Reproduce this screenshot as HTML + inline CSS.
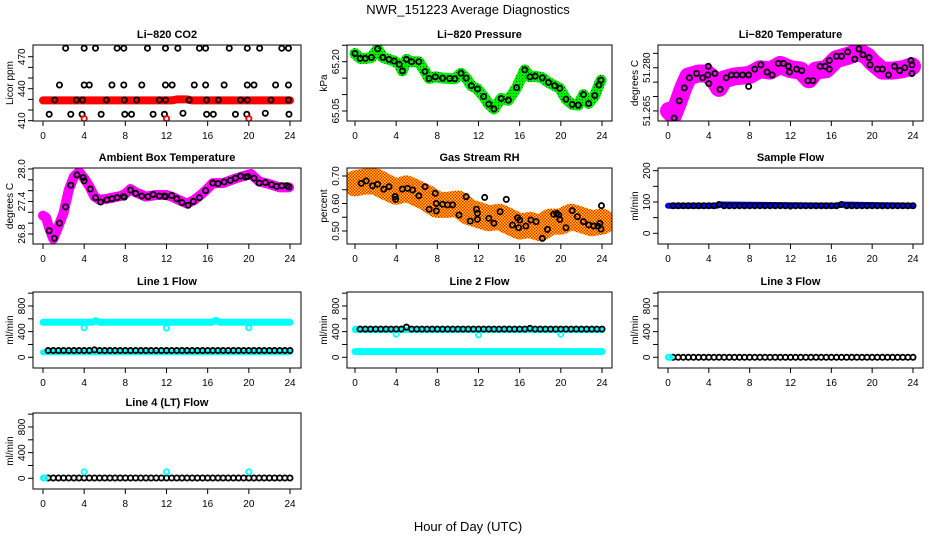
<!DOCTYPE html>
<html><head><meta charset="utf-8"><style>
body{margin:0;background:#fff}
svg{display:block}
text{font-family:"Liberation Sans",sans-serif;fill:#000}
</style></head><body>
<svg id="chart" width="936" height="540" viewBox="0 0 936 540" xmlns="http://www.w3.org/2000/svg">
<defs>
<pattern id="rhpat" width="3" height="3" patternUnits="userSpaceOnUse"><rect width="3" height="3" fill="#ffd400"/><rect width="1.5" height="1.5" fill="#ff2000"/><rect x="1.5" y="1.5" width="1.5" height="1.5" fill="#ff2000"/></pattern>
<pattern id="grpat" width="3" height="3" patternUnits="userSpaceOnUse"><rect width="3" height="3" fill="#00ee00"/><rect width="1" height="1" fill="#006600"/></pattern>
</defs>
<text x="468" y="14" text-anchor="middle" font-size="13">NWR_151223  Average Diagnostics</text>
<text x="468" y="531" text-anchor="middle" font-size="13">Hour of Day (UTC)</text>
</svg>
<script>
// ---- data ----
const xTicks = [0,4,8,12,16,20,24];
// CO2
const co2BandHours = [0,12.5,13,14,14.5,24];
const co2BandVals = [429,429,430,430,429,429];
const co2TopHours = [2.2,4.0,5.1,7.2,7.85,10.15,11.9,13.1,15.2,15.8,18.1,19.85,21.05,23.2,23.85];
const co2TopVals = [478,478,478,478,478,478,478,478,478,478,478,478,478,478,478];
const co2MidHours = [1.6,4.0,4.5,6.7,7.85,9.6,11.9,12.55,14.7,15.8,17.6,19.85,20.5,22.6,23.85];
const co2MidVals = [443.5,443.5,443.5,443.5,443.5,443.5,443.5,443.5,443.5,443.5,443.5,443.5,443.5,443.5,443.5];
const co2LowHours = [1.15,3.25,3.85,6.15,7.9,9.1,11.3,11.9,14.2,15.9,17.05,19.2,19.85,22.15,23.85];
const co2LowVals = [429.4,429.4,429.4,429.4,429.4,429.4,429.4,429.4,429.4,429.4,429.4,429.4,429.4,429.4,429.4];
const co2BotHours = [0.6,2.7,3.8,5.65,7.95,8.6,10.7,11.8,13.6,15.9,16.55,18.7,19.8,21.6,23.9];
const co2BotVals = [416,416,416,416,416,416,416,416,417,416,416,416,416,417,416];
const co2RedHours = [4,12,20];
const co2RedVals = [411.9,411.9,411.9];
// Pressure
const presHours = [0,0.5,1,1.6,2.2,2.7,3.3,3.8,4.3,4.6,5,5.5,6.2,6.8,7.2,7.8,8.5,9.2,9.7,10.3,10.8,11.3,11.9,12.5,13,13.5,14.2,14.9,15.7,16.5,17,17.5,18.2,18.8,19.4,19.9,20.5,21.1,21.7,22.2,22.7,23.3,23.7,23.9];
const presVals = [65.225,65.21,65.21,65.213,65.239,65.213,65.207,65.202,65.192,65.172,65.207,65.2,65.2,65.17,65.149,65.154,65.15,65.149,65.148,65.165,65.15,65.127,65.117,65.094,65.071,65.056,65.088,65.083,65.121,65.175,65.154,65.156,65.151,65.137,65.127,65.119,65.086,65.07,65.068,65.1,65.073,65.097,65.129,65.144];
// Li-820 Temperature
const tBandHours = [0.1,0.5,1,1.5,2,3,3.8,4.5,5,5.5,6.5,8,9,10,11,12,13,13.8,14.5,15.5,16.5,17.5,18.7,19.5,20,21,22,23,23.9];
const tBandVals = [51.265,51.2635,51.268,51.273,51.277,51.278,51.278,51.276,51.273,51.276,51.277,51.2775,51.2795,51.279,51.281,51.2795,51.279,51.276,51.279,51.2795,51.283,51.284,51.2855,51.284,51.282,51.279,51.279,51.2795,51.2805];
const tPtHours = [0.6,1.1,1.6,2.1,2.8,3.4,3.9,3.95,4.0,4.6,5.1,5.7,6.2,6.7,7.3,7.9,7.9,8.5,9.1,9.7,10.2,10.8,11.3,11.8,11.9,12.6,13.1,13.7,14.2,14.9,15.4,15.8,15.8,16.5,17,17.6,18.3,18.7,19.1,19.7,19.8,20.5,21,21.6,22.2,22.7,23.2,23.8,23.9,23.9];
const tPtVals = [51.2625,51.2685,51.273,51.2765,51.278,51.2765,51.2775,51.2805,51.2745,51.278,51.2725,51.2765,51.2775,51.2775,51.2775,51.2775,51.2735,51.2795,51.281,51.2785,51.2775,51.2815,51.2815,51.2805,51.2785,51.2795,51.279,51.2755,51.2755,51.2805,51.2805,51.2825,51.2795,51.284,51.284,51.2855,51.283,51.2865,51.2845,51.2835,51.281,51.2795,51.2795,51.2775,51.2805,51.279,51.28,51.2825,51.281,51.278];
// Ambient box temperature
const aBandHours = [0,0.3,0.6,1,1.5,2,2.5,3,3.5,4,4.5,5,5.5,6.5,7.5,8,8.5,9,10,11,12,12.5,13.2,14,14.7,15.5,16,16.5,17.5,18.5,19.5,20.2,21,22,23,23.9];
const aBandVals = [27.14,27.1,26.91,26.71,26.94,27.19,27.61,27.86,27.95,27.83,27.68,27.49,27.43,27.46,27.5,27.54,27.63,27.57,27.49,27.52,27.52,27.49,27.43,27.36,27.43,27.55,27.64,27.74,27.74,27.81,27.87,27.91,27.77,27.72,27.66,27.66];
const aPtHours = [0.6,1.1,1.6,2.2,2.7,3.3,3.9,4.0,4.6,5.1,5.6,6.2,6.7,7.2,7.8,7.9,8.5,9,9.6,10.2,10.7,11.3,11.8,11.9,12.5,13,13.5,14.1,14.6,15.2,15.8,16.5,17,17.6,18.2,18.7,19.2,19.7,19.9,20.5,21,21.6,22.2,22.7,23.2,23.7,23.9];
const aPtVals = [26.86,26.72,27.0,27.3,27.7,27.89,27.84,27.78,27.63,27.47,27.39,27.43,27.45,27.47,27.49,27.48,27.61,27.55,27.5,27.49,27.53,27.5,27.5,27.49,27.51,27.45,27.38,27.33,27.4,27.47,27.6,27.74,27.73,27.76,27.79,27.83,27.87,27.85,27.86,27.83,27.74,27.75,27.71,27.68,27.69,27.69,27.67];
// Gas stream RH
const rhBandHours = [0,1,2,3,4,5,6,7,8,9,10,11,12,13,14,15,16,17,18,19,20,21,22,23,24];
const rhBandVals = [0.673,0.68,0.68,0.66,0.643,0.655,0.637,0.62,0.595,0.595,0.6,0.57,0.558,0.546,0.552,0.534,0.516,0.522,0.51,0.534,0.534,0.552,0.54,0.528,0.534];
const rhPtHours = [0.6,1.1,1.7,2.2,2.8,3.3,3.9,3.95,4.6,5.1,5.6,6.2,6.8,7.2,7.8,7.9,7.9,8.5,9,9.5,10.1,10.8,11.2,11.8,11.9,11.9,12.6,13,13.5,14.1,14.7,15.3,15.8,15.9,16,16.6,17.1,17.6,18.2,18.7,19.3,19.6,19.8,19.9,20.5,21.1,21.6,22.2,22.7,23.2,23.6,23.8,23.9,23.95];
const rhPtVals = [0.673,0.682,0.664,0.67,0.652,0.661,0.625,0.615,0.652,0.655,0.649,0.628,0.661,0.579,0.637,0.6,0.573,0.597,0.595,0.595,0.558,0.625,0.536,0.579,0.564,0.542,0.622,0.546,0.528,0.57,0.615,0.522,0.548,0.512,0.54,0.518,0.54,0.534,0.473,0.506,0.561,0.564,0.558,0.542,0.512,0.574,0.552,0.534,0.522,0.518,0.518,0.528,0.507,0.592];
// Flows
const flowHours = [0.5,1,1.5,2,2.5,3,3.5,4,4.5,5,5.5,6,6.5,7,7.5,8,8.5,9,9.5,10,10.5,11,11.5,12,12.5,13,13.5,14,14.5,15,15.5,16,16.5,17,17.5,18,18.5,19,19.5,20,20.5,21,21.5,22,22.5,23,23.5,24];
const sampleVals = [88,88,88,88,88,88,88,88,88,92,88,88,88,88,88,88,88,88,88,88,88,88,88,87,88,88,88,88,88,88,88,88,88,92,88,88,88,88,88,88,88,88,88,88,88,88,88,88];
const sampleBandHours = [0,4.8,5.2,16.5,17,24];
const sampleBandVals = [88,88,92,88,92,88];
const line1Vals = [105,105,105,105,105,105,105,105,105,115,105,105,105,105,105,105,105,105,105,105,105,105,105,105,105,105,105,105,105,105,105,105,105,105,105,105,105,105,105,105,105,105,105,105,105,105,105,105];
const line1UpHours = [0,4.8,5.1,5.5,16.4,16.8,17.2,24];
const line1UpVals = [545,545,570,545,545,575,545,545];
const line1LowHours = [0,24];
const line1LowVals = [80,80];
const line1SpikeHours = [4,12,20];
const line1SpikeVals = [460,455,460];
const line2Vals = [440,440,440,440,440,440,440,440,440,470,440,440,440,440,440,440,440,440,440,440,440,440,440,440,440,440,440,440,440,440,440,440,440,450,440,440,440,440,440,440,440,440,440,440,440,440,440,440];
const line2UpHours = [0,24];
const line2UpVals = [425,425];
const line2LowHours = [0,24];
const line2LowVals = [88,88];
const line2SpikeHours = [0.05,4,12,20];
const line2SpikeVals = [440,360,350,360];
const line3Vals = [0,0,0,0,0,0,0,0,0,0,0,0,0,0,0,0,0,0,0,0,0,0,0,0,0,0,0,0,0,0,0,0,0,0,0,0,0,0,0,0,0,0,0,0,0,0,0,0];
const line3CyanHours = [0.05,0.2];
const line3CyanVals = [0,0];
const line4Vals = [5,5,5,5,5,5,5,5,5,5,5,5,5,5,5,5,5,5,5,5,5,5,5,5,5,5,5,5,5,5,5,5,5,5,5,5,5,5,5,5,5,5,5,5,5,5,5,5];
const line4SpikeHours = [0.05,0.2,4,12,20];
const line4SpikeVals = [5,5,100,100,100];

// ---- layout ----
const NS = 'http://www.w3.org/2000/svg';
const svg = document.getElementById('chart');
const colBox = [[33,301],[347,612],[658,923]];
const colX = [[43,290],[355,602],[668,913]];
const rowTop = [45,168,292,413];
const H = 76;
function mk(tag, attrs, parent){const e=document.createElementNS(NS,tag);for(const k in attrs)e.setAttribute(k,attrs[k]);(parent||svg).appendChild(e);return e;}

function panel(p){
  const g = mk('g',{});
  
  
  const [bl,br] = colBox[p.col], top = rowTop[p.row], bot = top+H;
  const [x0,x24] = colX[p.col];
  const sx = h => x0 + (x24-x0)*h/24;
  const sy = v => bot - (v-p.d0)/(p.d1-p.d0)*H;
  const t = mk('text',{x:(bl+br)/2,y:top-7,'text-anchor':'middle','font-size':'11','font-weight':'bold'},g);
  t.textContent = p.title;
  
  
  const yl = mk('text',{transform:`translate(${bl-20},${(top+bot)/2}) rotate(-90)`,'text-anchor':'middle','font-size':'10'},g);
  yl.textContent = p.ylab;
  
  
  const xa = mk('g',{},g);
  
  
  mk('line',{x1:sx(0),x2:sx(24),y1:bot,y2:bot,stroke:'#000'},xa);
  xTicks.forEach(v=>{
    mk('line',{x1:sx(v),x2:sx(v),y1:bot,y2:bot+5,stroke:'#000'},xa);
    const tx = mk('text',{x:sx(v),y:bot+18,'text-anchor':'middle','font-size':'10'},xa);
    tx.textContent = v;
  });
  const ya = mk('g',{},g);
  
  
  mk('line',{x1:bl,x2:bl,y1:sy(p.ticks[0]),y2:sy(p.ticks[p.ticks.length-1]),stroke:'#000'},ya);
  p.ticks.forEach(v=>{mk('line',{x1:bl-5,x2:bl,y1:sy(v),y2:sy(v),stroke:'#000'},ya);});
  p.labels.forEach((v,i)=>{
    const ty = mk('text',{transform:`translate(${bl-8},${sy(v)}) rotate(-90)`,'text-anchor':'middle','font-size':'10'},ya);
    ty.textContent = p.labelText[i];
  });
  const cid = 'c'+p.name;
  const cp = mk('clipPath',{id:cid},g); mk('rect',{x:bl,y:top,width:br-bl,height:H},cp);
  const data = mk('g',{'clip-path':`url(#${cid})`},g);
  p.series.forEach(s=>{
    if(s.type==='band'){
      const d = s.h.map((h,i)=>(i?'L':'M')+sx(h).toFixed(1)+','+sy(s.v[i]).toFixed(1)).join('');
      const path = mk('path',{d:d,fill:'none',stroke:s.color,'stroke-width':s.w,'stroke-linecap':'round','stroke-linejoin':'round'},data);
      
      
    } else {
      const sg = mk('g',{},data);
      
      
      s.h.forEach((h,i)=>{
        const c = mk('circle',{cx:sx(h),cy:sy(s.v[i]),r:s.r||2.6,fill:'none',stroke:s.color,'stroke-width':s.sw||1.8},sg);
        
        
      });
    }
  });
  mk('rect',{x:bl,y:top,width:br-bl,height:H,fill:'none',stroke:'#000'},g);
}
const flowTicks=[0,200,400,600,800,1000];
const panels = [
 {name:'co2-panel',col:0,row:0,title:'Li\u2212820 CO2',ylab:'Licor ppm',d0:409.7,d1:481,ticks:[410,420,430,440,450,460,470],labels:[410,440,470],labelText:['410','440','470'],
  series:[{type:'band',name:'co2-band',h:co2BandHours,v:co2BandVals,color:'#ff0000',w:8},
   {type:'pts',name:'co2-top',h:co2TopHours,v:co2TopVals,color:'#000'},
   {type:'pts',name:'co2-mid',h:co2MidHours,v:co2MidVals,color:'#000'},
   {type:'pts',name:'co2-low',h:co2LowHours,v:co2LowVals,color:'#000'},
   {type:'pts',name:'co2-bot',h:co2BotHours,v:co2BotVals,color:'#000'},
   {type:'pts',name:'co2-red',h:co2RedHours,v:co2RedVals,color:'#ff0000'}]},
 {name:'pressure-panel',col:1,row:0,title:'Li\u2212820 Pressure',ylab:'kPa',d0:65.0196,d1:65.2508,ticks:[65.05,65.10,65.15,65.20,65.25],labels:[65.05,65.20],labelText:['65.05','65.20'],
  series:[{type:'band',name:'pressure-band',h:presHours,v:presVals,color:'url(#grpat)',w:11},
   {type:'pts',name:'pressure-points',h:presHours,v:presVals,color:'#000'}]},
 {name:'temperature-panel',col:2,row:0,title:'Li\u2212820 Temperature',ylab:'degrees C',d0:51.2615,d1:51.2879,ticks:[51.265,51.27,51.275,51.28,51.285],labels:[51.265,51.28],labelText:['51.265','51.280'],
  series:[{type:'band',name:'temperature-band',h:tBandHours,v:tBandVals,color:'#ff00ff',w:18},
   {type:'pts',name:'temperature-points',h:tPtHours,v:tPtVals,color:'#000'}]},
 {name:'ambient-panel',col:0,row:1,title:'Ambient Box Temperature',ylab:'degrees C',d0:26.615,d1:28.018,ticks:[26.8,27.0,27.2,27.4,27.6,27.8,28.0],labels:[26.8,27.4,28.0],labelText:['26.8','27.4','28.0'],
  series:[{type:'band',name:'ambient-band',h:aBandHours,v:aBandVals,color:'#ff00ff',w:10},
   {type:'pts',name:'ambient-points',h:aPtHours,v:aPtVals,color:'#000'}]},
 {name:'rh-panel',col:1,row:1,title:'Gas Stream RH',ylab:'percent',d0:0.4527,d1:0.729,ticks:[0.5,0.55,0.6,0.65,0.7],labels:[0.5,0.6,0.7],labelText:['0.50','0.60','0.70'],
  series:[{type:'band',name:'rh-band',h:rhBandHours,v:rhBandVals,color:'url(#rhpat)',w:26},
   {type:'pts',name:'rh-points',h:rhPtHours,v:rhPtVals,color:'#000'}]},
 {name:'sample-flow-panel',col:2,row:1,title:'Sample Flow',ylab:'ml/min',d0:-34.2,d1:208.6,ticks:[0,50,100,150,200],labels:[0,100,200],labelText:['0','100','200'],
  series:[{type:'band',name:'sample-band',h:sampleBandHours,v:sampleBandVals,color:'#0000ff',w:6},
   {type:'pts',name:'sample-points',h:flowHours,v:sampleVals,color:'#000'}]},
 {name:'line1-panel',col:0,row:2,title:'Line 1 Flow',ylab:'ml/min',d0:-167,d1:1018,ticks:flowTicks,labels:[0,400,800],labelText:['0','400','800'],
  series:[{type:'band',name:'line1-upper',h:line1UpHours,v:line1UpVals,color:'#00ffff',w:7},
   {type:'band',name:'line1-lower',h:line1LowHours,v:line1LowVals,color:'#00ffff',w:6},
   {type:'pts',name:'line1-spikes',h:line1SpikeHours,v:line1SpikeVals,color:'#00ffff'},
   {type:'pts',name:'line1-points',h:flowHours,v:line1Vals,color:'#000'}]},
 {name:'line2-panel',col:1,row:2,title:'Line 2 Flow',ylab:'ml/min',d0:-167,d1:1018,ticks:flowTicks,labels:[0,400,800],labelText:['0','400','800'],
  series:[{type:'band',name:'line2-upper',h:line2UpHours,v:line2UpVals,color:'#00ffff',w:6},
   {type:'band',name:'line2-lower',h:line2LowHours,v:line2LowVals,color:'#00ffff',w:7},
   {type:'pts',name:'line2-spikes',h:line2SpikeHours,v:line2SpikeVals,color:'#00ffff'},
   {type:'pts',name:'line2-points',h:flowHours,v:line2Vals,color:'#000'}]},
 {name:'line3-panel',col:2,row:2,title:'Line 3 Flow',ylab:'ml/min',d0:-167,d1:1018,ticks:flowTicks,labels:[0,400,800],labelText:['0','400','800'],
  series:[{type:'pts',name:'line3-points',h:flowHours,v:line3Vals,color:'#000'},
   {type:'pts',name:'line3-cyan',h:line3CyanHours,v:line3CyanVals,color:'#00ffff'}]},
 {name:'line4-panel',col:0,row:3,title:'Line 4 (LT) Flow',ylab:'ml/min',d0:-167,d1:1018,ticks:flowTicks,labels:[0,400,800],labelText:['0','400','800'],
  series:[{type:'pts',name:'line4-points',h:flowHours,v:line4Vals,color:'#000'},
   {type:'pts',name:'line4-cyan',h:line4SpikeHours,v:line4SpikeVals,color:'#00ffff'}]}
];
panels.forEach(panel);
</script>
</body></html>
